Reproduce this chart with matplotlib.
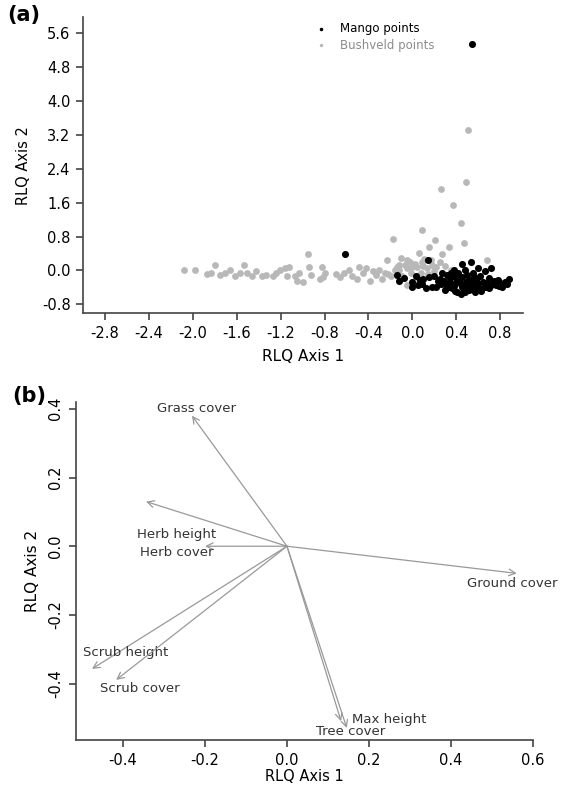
import matplotlib
matplotlib.use("Agg")
import matplotlib.pyplot as plt

# ---- panel (a): RLQ site scores ----
bush_x = [0.51, 0.49, 0.26, 0.37, 0.44, 0.09, -0.18, 0.21, 0.47, 0.15, 0.33, -0.95, 0.06, 0.27,
          0.68, -0.23, -0.05, 0.17, 0.09, 0.25, -0.12, 0.0, 0.22, -0.49,
          -2.08, -1.98, -1.87, -1.83, -1.80, -1.75, -1.71, -1.66, -1.62, -1.57, -1.53, -1.51,
          -1.46, -1.42, -1.37, -1.33, -1.27, -1.24, -1.21, -1.16, -1.14, -1.12, -1.07, -1.05,
          -1.03, -0.94, -0.92, -0.82, -0.81, -0.80, -0.84, -1.00,
          -0.66, -0.62, -0.55, -0.45, -0.39, -0.33, -0.28, -0.25, -0.19, -0.16, -0.12, -0.09,
          -0.05, -0.01, 0.04, 0.08, 0.13, -0.05, -0.70, -0.58, -0.50, -0.42, -0.36, -0.30,
          -0.22, -0.14, -0.07, 0.02, 0.06, 0.10, 0.14, 0.18, 0.20, 0.03, -0.02, 0.11, -0.10,
          0.30, 0.35]
bush_y = [3.32, 2.08, 1.93, 1.55, 1.13, 0.96, 0.75, 0.73, 0.66, 0.56, 0.56, 0.40, 0.42, 0.40,
          0.24, 0.24, 0.24, 0.24, 0.19, 0.19, 0.14, 0.09, 0.07, 0.09,
          0.02, 0.02, -0.08, -0.05, 0.12, -0.10, -0.05, 0.0, -0.12, -0.05, 0.14, -0.05,
          -0.12, -0.02, -0.14, -0.10, -0.14, -0.05, 0.0, 0.05, -0.12, 0.07, -0.12, -0.24,
          -0.05, 0.09, -0.10, 0.09, -0.16, -0.05, -0.20, -0.28,
          -0.16, -0.05, -0.14, -0.05, -0.24, -0.10, -0.21, -0.05, -0.12, 0.0, 0.0, -0.14,
          0.05, -0.05, 0.09, -0.05, 0.05, -0.35, -0.08, 0.02, -0.20, 0.05, -0.02, 0.02,
          -0.08, 0.08, 0.12, 0.16, -0.12, 0.10, -0.08, 0.12, -0.02, -0.20, 0.20, 0.28, 0.30,
          0.10, 0.02]

mango_x = [0.545, -0.61, 0.14, 0.53, 0.45, 0.72, 0.55, 0.27, -0.14, -0.12, 0.0, 0.05, 0.09,
           0.15, 0.18, 0.23, 0.31, 0.34, 0.36, 0.40, 0.41, 0.45, 0.45, 0.49, 0.52, 0.58, 0.61,
           0.64, 0.67, 0.76, 0.82, 0.88, 0.86, 0.0,
           0.38, 0.42, 0.48, 0.60, 0.66, 0.32, 0.38, 0.50, 0.56, 0.62, 0.70, 0.78, 0.84, 0.10,
           0.20, 0.26, 0.30, 0.34, 0.38, 0.43, 0.47, 0.50, 0.54, 0.56, 0.60, 0.63, 0.68, 0.70,
           0.72, 0.74, 0.79, 0.80, 0.25, 0.29, 0.33, 0.39, 0.44, 0.48, 0.53, 0.57, 0.65, 0.12,
           0.07, 0.22, -0.08, 0.03, 0.35, 0.42, 0.52, 0.58]
mango_y = [5.34, 0.38, 0.24, 0.19, 0.16, 0.05, -0.05, -0.07, -0.10, -0.26, -0.28, -0.35, -0.31,
           -0.16, -0.38, -0.26, -0.35, -0.19, -0.42, -0.28, -0.52, -0.16, -0.40, -0.28, -0.47,
           -0.35, -0.42, -0.28, -0.40, -0.35, -0.38, -0.21, -0.33, -0.40,
           0.02, -0.05, 0.0, 0.05, -0.02, -0.10, -0.12, -0.10, -0.15, -0.12, -0.18, -0.22, -0.28,
           -0.20, -0.12, -0.32, -0.45, -0.30, -0.36, -0.30, -0.45, -0.36, -0.26, -0.42, -0.30,
           -0.48, -0.30, -0.42, -0.34, -0.26, -0.36, -0.30, -0.20, -0.25, -0.40, -0.48, -0.55,
           -0.50, -0.38, -0.50, -0.38, -0.42, -0.22, -0.40, -0.18, -0.12, -0.05, -0.20, -0.22,
           -0.20]

a_xticks = [-2.8, -2.4, -2.0, -1.6, -1.2, -0.8, -0.4, 0.0, 0.4, 0.8]
a_yticks = [-0.8, 0.0, 0.8, 1.6, 2.4, 3.2, 4.0, 4.8, 5.6]

# ---- panel (b): RLQ variable loadings ----
var_names = ["Grass cover", "Herb height", "Herb cover", "Ground cover",
             "Scrub height", "Scrub cover", "Max height", "Tree cover"]
var_x = [-0.232, -0.344, -0.20, 0.561, -0.476, -0.417, 0.132, 0.146]
var_y = [0.38, 0.13, 0.0, -0.079, -0.357, -0.389, -0.509, -0.529]
lab_x = [-0.22, -0.27, -0.27, 0.55, -0.393, -0.359, 0.159, 0.156]
lab_y = [0.40, 0.035, -0.018, -0.108, -0.31, -0.415, -0.503, -0.538]
lab_ha = ["center", "center", "center", "center", "center", "center", "left", "center"]

b_xticks = [-0.4, -0.2, 0.0, 0.2, 0.4, 0.6]
b_yticks = [-0.4, -0.2, 0.0, 0.2, 0.4]

plt.rcParams["font.family"] = ["DejaVu Sans"]

fig = plt.figure(figsize=(5.65, 7.85), dpi=100)

ax1 = fig.add_axes([0.147, 0.601, 0.779, 0.377])
ax1.scatter(bush_x, bush_y, s=24, color="#b8b8b8", linewidths=0, label="Bushveld points", zorder=2)
ax1.scatter(mango_x, mango_y, s=26, color="black", linewidths=0, label="Mango points", zorder=3)
ax1.set_xlim(-3.0, 1.01)
ax1.set_ylim(-1.01, 5.98)
ax1.set_xticks(a_xticks)
ax1.set_xticklabels(["%.1f" % v for v in a_xticks])
ax1.set_yticks(a_yticks)
ax1.set_yticklabels(["%.1f" % v for v in a_yticks])
ax1.set_xlabel("RLQ Axis 1", fontsize=11, labelpad=6)
ax1.set_ylabel("RLQ Axis 2", fontsize=10.5, labelpad=8)
handles, labels = ax1.get_legend_handles_labels()
ax1.legend(handles[::-1], labels[::-1], loc="upper left", bbox_to_anchor=(0.49, 1.02),
           frameon=False, fontsize=8.5, labelcolor=["black", "#8c8c8c"],
           handletextpad=0.6, markerscale=0.5, labelspacing=0.3)

ax2 = fig.add_axes([0.1345, 0.0573, 0.8085, 0.4307])
for i in range(len(var_names)):
    ax2.annotate("", xy=(var_x[i], var_y[i]), xytext=(0, 0),
                 arrowprops=dict(arrowstyle="->", color="#999999", lw=0.9,
                                 shrinkA=0, shrinkB=0, mutation_scale=12))
    ax2.text(lab_x[i], lab_y[i], var_names[i], ha=lab_ha[i], va="center",
             fontsize=9.5, color="#333333", clip_on=False)
ax2.set_xlim(-0.515, 0.6)
ax2.set_ylim(-0.564, 0.42)
ax2.set_xticks(b_xticks)
ax2.set_xticklabels(["%.1f" % v for v in b_xticks])
ax2.set_yticks(b_yticks)
ax2.set_yticklabels(["%.1f" % v for v in b_yticks], rotation=90, va="center")
ax2.set_xlabel("RLQ Axis 1", fontsize=10.5, labelpad=1)
ax2.set_ylabel("RLQ Axis 2", fontsize=11, labelpad=6)

for ax in (ax1, ax2):
    ax.spines["top"].set_visible(False)
    ax.spines["right"].set_visible(False)
    ax.spines["left"].set_linewidth(1.2)
    ax.spines["bottom"].set_linewidth(1.2)
    ax.spines["left"].set_color("#444444")
    ax.spines["bottom"].set_color("#444444")
    ax.tick_params(direction="out", length=5, width=1.2, color="#444444",
                   labelsize=10.5, pad=4)

fig.text(0.012, 0.993, "(a)", fontsize=15, fontweight="bold", va="top", ha="left")
fig.text(0.022, 0.508, "(b)", fontsize=15, fontweight="bold", va="top", ha="left")

fig.savefig("out.png", dpi=100)
